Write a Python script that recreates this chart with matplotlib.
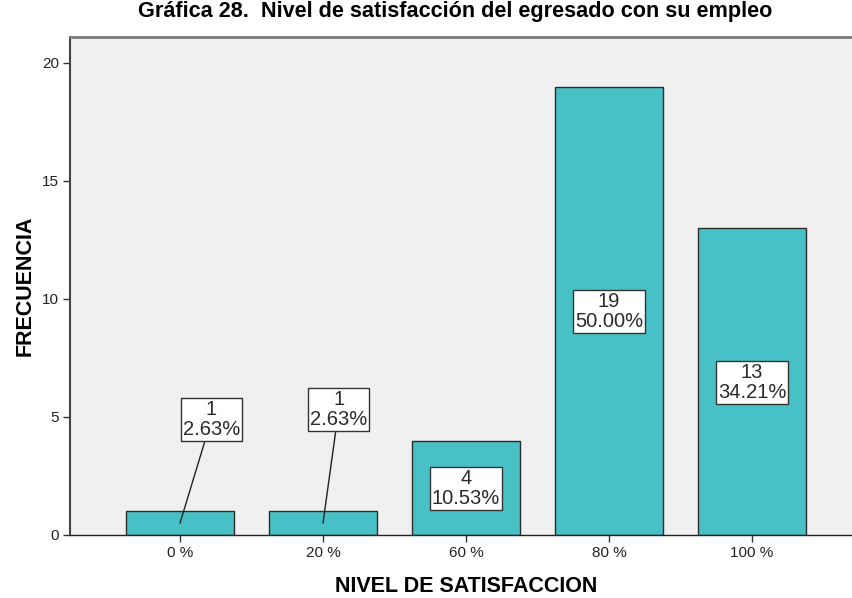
import matplotlib
matplotlib.use("Agg")
import matplotlib.pyplot as plt

categories = ["0 %", "20 %", "60 %", "80 %", "100 %"]
counts = [1, 1, 4, 19, 13]
percents = ["2.63%", "2.63%", "10.53%", "50.00%", "34.21%"]
y_ticks = [0, 5, 10, 15, 20]

plt.rcParams['font.family'] = ['Liberation Sans', 'DejaVu Sans']

fig = plt.figure(figsize=(8.53, 5.98), dpi=100)
ax = fig.add_axes([70/853, 1 - 535/598, 1 - 70/853, (535 - 37)/598])
ax.set_facecolor("#F0F0F0")

x = list(range(len(categories)))
ax.bar(x, counts, width=0.75, color="#48C1C6", edgecolor="#2B2B2B", linewidth=1.0, zorder=2)

ax.set_xlim(-0.769, 4.706)
ax.set_ylim(0, 21.1)
ax.set_xticks(x)
ax.set_xticklabels(categories, fontsize=11)
ax.set_yticks(y_ticks)
ax.set_yticklabels([str(v) for v in y_ticks], fontsize=11)
ax.tick_params(axis='both', direction='out', length=5, width=1, color="#333333",
               labelcolor="#222222", pad=3)

ax.spines["right"].set_visible(False)
ax.spines["left"].set_color("#444444")
ax.spines["left"].set_linewidth(1.5)
ax.spines["bottom"].set_color("#222222")
ax.spines["bottom"].set_linewidth(1.0)
ax.spines["top"].set_color("#777777")
ax.spines["top"].set_linewidth(2.0)

label_y = [4.89, 5.32, 1.97, 9.47, 6.46]
label_dx = [0.22, 0.11, 0.0, 0.0, 0.0]
box = dict(boxstyle="square,pad=0.1", fc="white", ec="#333333", lw=1.0)
for i, (c, p) in enumerate(zip(counts, percents)):
    txt = f"{c}\n{p}"
    if c <= 1:
        ax.annotate(txt, xy=(i, c / 2), xytext=(i + label_dx[i], label_y[i]),
                    ha="center", va="center", fontsize=14.5, color="#2A2A2A",
                    linespacing=1.05, bbox=box,
                    arrowprops=dict(arrowstyle="-", color="#222222", lw=1.0, shrinkA=0, shrinkB=0),
                    zorder=3)
    else:
        ax.text(i, label_y[i], txt, ha="center", va="center", fontsize=14.5, color="#2A2A2A",
                linespacing=1.05, bbox=box, zorder=3)

fig.text(25/853, 1 - 286/598, "FRECUENCIA", rotation=90, ha="center", va="center",
         fontsize=15.5, fontweight="bold")
fig.text(466/853, 1 - 586/598, "NIVEL DE SATISFACCION", ha="center", va="center",
         fontsize=15.5, fontweight="bold")
fig.text(455/853, 1 - 12/598, "Gráfica 28.  Nivel de satisfacción del egresado con su empleo",
         ha="center", va="center", fontsize=15.6, fontweight="bold")

fig.savefig("out.png", dpi=100)
